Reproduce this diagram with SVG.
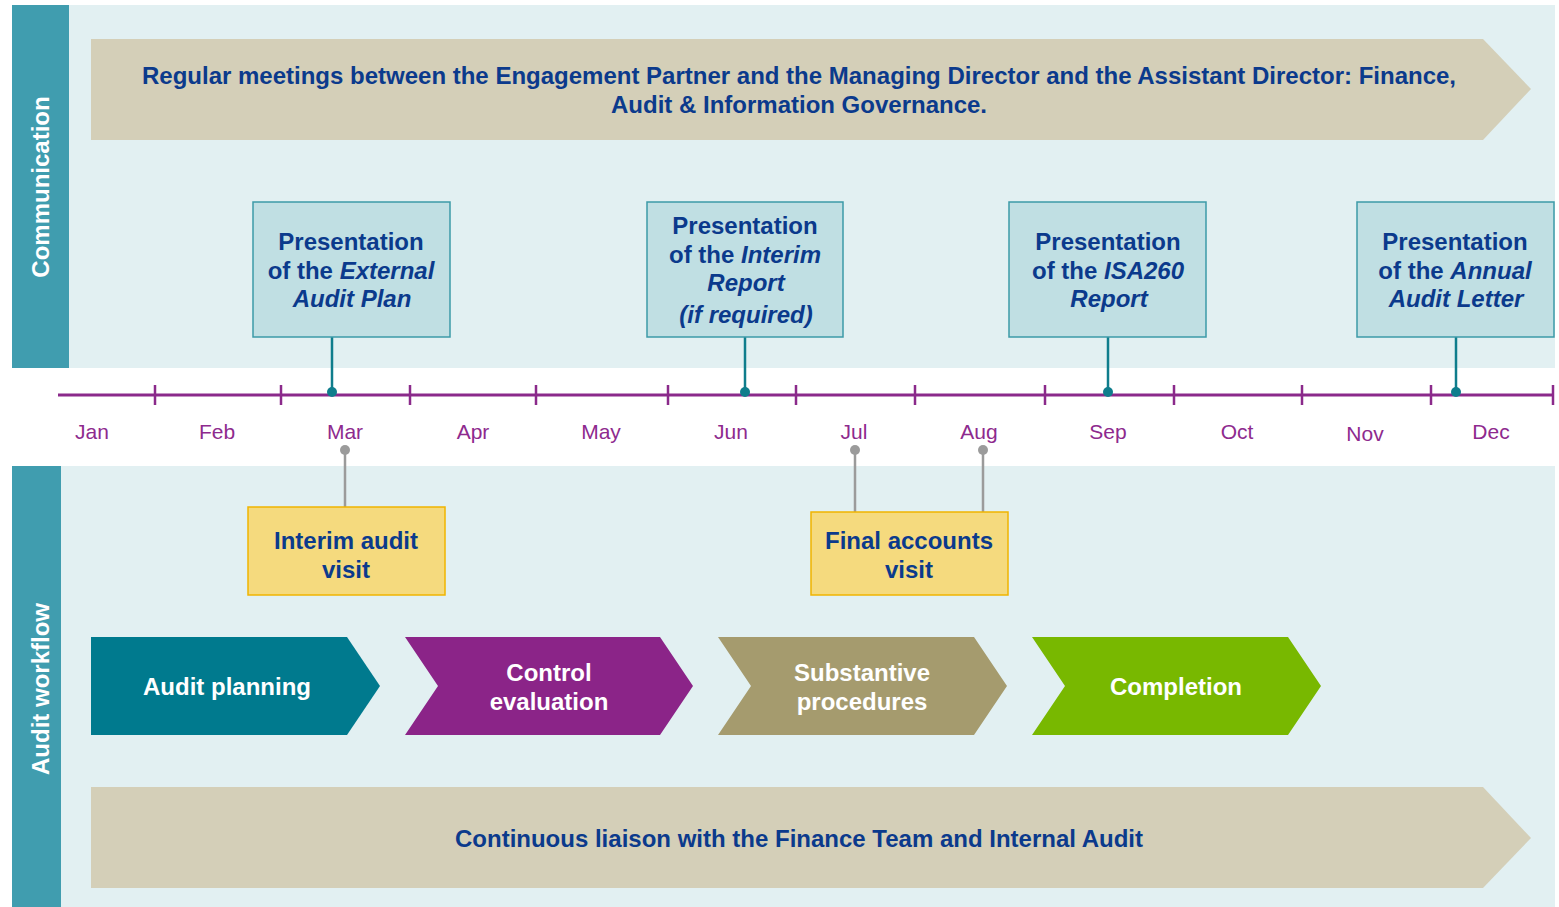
<svg xmlns="http://www.w3.org/2000/svg" width="1559" height="907" viewBox="0 0 1559 907">
  <defs>
    <style>
      .band { fill: #e2f0f2; }
      .side { fill: #409daf; }
      .side-label { font-family: "Liberation Sans", Arial, sans-serif; font-weight: bold; font-size: 24px; fill: #ffffff; text-anchor: middle; }
      .banner { fill: #d4cfb8; }
      .navy { font-family: "Liberation Sans", Arial, sans-serif; font-weight: bold; font-size: 24px; fill: #0b3a8c; text-anchor: middle; }
      .pres { fill: #c0dfe3; stroke: #3c9aa8; stroke-width: 1.5; }
      .visit { fill: #f5da7e; stroke: #f0b400; stroke-width: 1.5; }
      .chev-text { font-family: "Liberation Sans", Arial, sans-serif; font-weight: bold; font-size: 24px; fill: #ffffff; text-anchor: middle; }
      .month { font-family: "Liberation Sans", Arial, sans-serif; font-size: 21px; fill: #8e2a8e; text-anchor: middle; }
      .axis { stroke: #8b2a8b; stroke-width: 3; fill: none; }
      .tick { stroke: #8b2a8b; stroke-width: 2.5; }
      .pin-teal { stroke: #0f7d8c; stroke-width: 2.5; }
      .dot-teal { fill: #0f7d8c; }
      .pin-grey { stroke: #9b9b9b; stroke-width: 2.5; }
      .dot-grey { fill: #9b9b9b; }
      .it { font-style: italic; }
    </style>
  </defs>

  <rect width="1559" height="907" fill="#ffffff"/>

  <!-- Communication band -->
  <g id="communication-band">
    <rect class="band" x="69" y="5" width="1486" height="363"/>
    <rect class="side" x="12" y="5" width="57" height="363"/>
    <text class="side-label" transform="translate(49 187) rotate(-90)">Communication</text>
  </g>

  <!-- Audit workflow band -->
  <g id="workflow-band">
    <rect class="band" x="61" y="466" width="1494" height="441"/>
    <rect class="side" x="12" y="466" width="49" height="441"/>
    <text class="side-label" transform="translate(49 689) rotate(-90)">Audit workflow</text>
  </g>

  <!-- Timeline axis -->
  <g id="timeline">
    <line class="axis" x1="58" y1="395" x2="1554" y2="395"/>
    <g class="tick">
      <line x1="155" y1="385" x2="155" y2="405"/>
      <line x1="281" y1="385" x2="281" y2="405"/>
      <line x1="410" y1="385" x2="410" y2="405"/>
      <line x1="536" y1="385" x2="536" y2="405"/>
      <line x1="668" y1="385" x2="668" y2="405"/>
      <line x1="796" y1="385" x2="796" y2="405"/>
      <line x1="915" y1="385" x2="915" y2="405"/>
      <line x1="1045" y1="385" x2="1045" y2="405"/>
      <line x1="1174" y1="385" x2="1174" y2="405"/>
      <line x1="1302" y1="385" x2="1302" y2="405"/>
      <line x1="1431" y1="385" x2="1431" y2="405"/>
      <line x1="1553" y1="385" x2="1553" y2="405"/>
    </g>
    <text class="month" x="92" y="439">Jan</text>
    <text class="month" x="217" y="439">Feb</text>
    <text class="month" x="345" y="439">Mar</text>
    <text class="month" x="473" y="439">Apr</text>
    <text class="month" x="601" y="439">May</text>
    <text class="month" x="731" y="439">Jun</text>
    <text class="month" x="854" y="439">Jul</text>
    <text class="month" x="979" y="439">Aug</text>
    <text class="month" x="1108" y="439">Sep</text>
    <text class="month" x="1237" y="439">Oct</text>
    <text class="month" x="1365" y="441">Nov</text>
    <text class="month" x="1491" y="439">Dec</text>
  </g>

  <!-- Top banner -->
  <g id="regular-meetings">
    <polygon class="banner" points="91,39 1483,39 1531,89 1483,140 91,140"/>
    <text class="navy" x="799" y="84">Regular meetings between the Engagement Partner and the Managing Director and the Assistant Director: Finance,</text>
    <text class="navy" x="799" y="113">Audit &amp; Information Governance.</text>
  </g>

  <!-- Connectors: pins joining boxes to the timeline -->
  <g id="connectors">
    <line class="pin-teal" x1="332" y1="337" x2="332" y2="392"/>
    <circle class="dot-teal" cx="332" cy="392" r="5"/>
    <line class="pin-teal" x1="745" y1="337" x2="745" y2="392"/>
    <circle class="dot-teal" cx="745" cy="392" r="5"/>
    <line class="pin-teal" x1="1108" y1="337" x2="1108" y2="392"/>
    <circle class="dot-teal" cx="1108" cy="392" r="5"/>
    <line class="pin-teal" x1="1456" y1="337" x2="1456" y2="392"/>
    <circle class="dot-teal" cx="1456" cy="392" r="5"/>

    <line class="pin-grey" x1="345" y1="450" x2="345" y2="507"/>
    <circle class="dot-grey" cx="345" cy="450" r="5"/>
    <line class="pin-grey" x1="855" y1="450" x2="855" y2="512"/>
    <circle class="dot-grey" cx="855" cy="450" r="5"/>
    <line class="pin-grey" x1="983" y1="450" x2="983" y2="512"/>
    <circle class="dot-grey" cx="983" cy="450" r="5"/>
  </g>

  <!-- Presentation boxes -->
  <g id="external-audit-plan">
    <rect class="pres" x="253" y="202" width="197" height="135"/>
    <text class="navy" x="351" y="250">Presentation</text>
    <text class="navy" x="351" y="279">of the <tspan class="it">External</tspan></text>
    <text class="navy it" x="352" y="307">Audit Plan</text>
  </g>
  <g id="interim-report">
    <rect class="pres" x="647" y="202" width="196" height="135"/>
    <text class="navy" x="745" y="234">Presentation</text>
    <text class="navy" x="745" y="263">of the <tspan class="it">Interim</tspan></text>
    <text class="navy it" x="746" y="291">Report</text>
    <text class="navy it" x="746" y="323">(if required)</text>
  </g>
  <g id="isa260-report">
    <rect class="pres" x="1009" y="202" width="197" height="135"/>
    <text class="navy" x="1108" y="250">Presentation</text>
    <text class="navy" x="1108" y="279">of the <tspan class="it">ISA260</tspan></text>
    <text class="navy it" x="1109" y="307">Report</text>
  </g>
  <g id="annual-audit-letter">
    <rect class="pres" x="1357" y="202" width="197" height="135"/>
    <text class="navy" x="1455" y="250">Presentation</text>
    <text class="navy" x="1455" y="279">of the <tspan class="it">Annual</tspan></text>
    <text class="navy it" x="1456" y="307">Audit Letter</text>
  </g>

  <!-- Site visits -->
  <g id="interim-audit-visit">
    <rect class="visit" x="248" y="507" width="197" height="88"/>
    <text class="navy" x="346" y="549">Interim audit</text>
    <text class="navy" x="346" y="578">visit</text>
  </g>
  <g id="final-accounts-visit">
    <rect class="visit" x="811" y="512" width="197" height="83"/>
    <text class="navy" x="909" y="549">Final accounts</text>
    <text class="navy" x="909" y="578">visit</text>
  </g>

  <!-- Workflow stages -->
  <g id="audit-planning">
    <polygon fill="#007a8e" points="91,637 347,637 380,686 347,735 91,735"/>
    <text class="chev-text" x="227" y="695">Audit planning</text>
  </g>
  <g id="control-evaluation">
    <polygon fill="#8b2488" points="405,637 660,637 693,686 660,735 405,735 438,686"/>
    <text class="chev-text" x="549" y="681">Control</text>
    <text class="chev-text" x="549" y="710">evaluation</text>
  </g>
  <g id="substantive-procedures">
    <polygon fill="#a59b6e" points="718,637 974,637 1007,686 974,735 718,735 751,686"/>
    <text class="chev-text" x="862" y="681">Substantive</text>
    <text class="chev-text" x="862" y="710">procedures</text>
  </g>
  <g id="completion">
    <polygon fill="#78b800" points="1032,637 1288,637 1321,686 1288,735 1032,735 1065,686"/>
    <text class="chev-text" x="1176" y="695">Completion</text>
  </g>

  <!-- Bottom banner -->
  <g id="continuous-liaison">
    <polygon class="banner" points="91,787 1483,787 1531,838 1483,888 91,888"/>
    <text class="navy" x="799" y="847">Continuous liaison with the Finance Team and Internal Audit</text>
  </g>
</svg>
